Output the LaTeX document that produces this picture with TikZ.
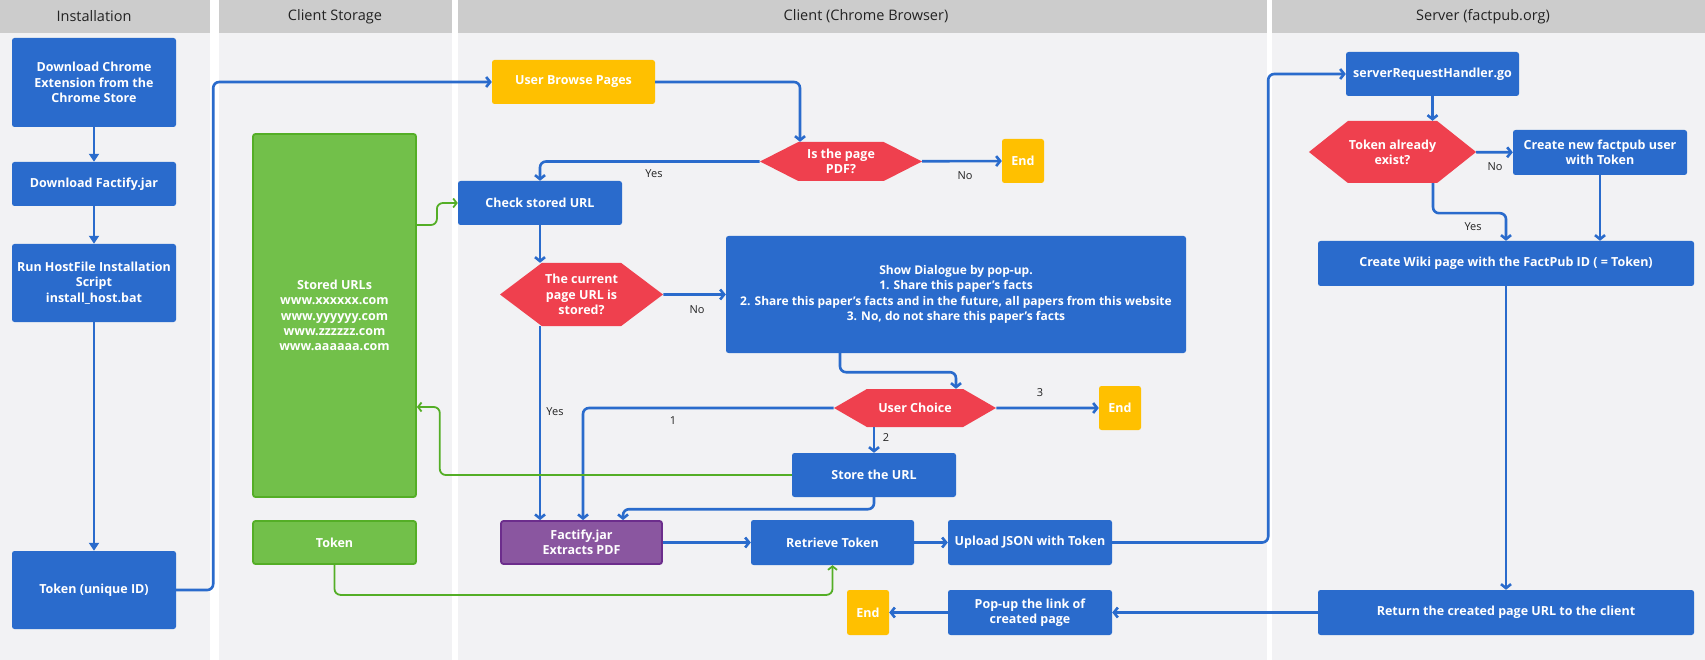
\documentclass[tikz,border=0pt]{standalone}
\usepackage{fontspec}
\setmainfont{Open Sans}
\usepackage{tikz}
\usetikzlibrary{shapes.symbols,arrows.meta}
\definecolor{lane}{HTML}{F2F2F4}
\definecolor{head}{HTML}{CCCCCC}
\definecolor{ink}{HTML}{222222}
\definecolor{blu}{HTML}{2A6BCC}
\definecolor{rd}{HTML}{EF404E}
\definecolor{ylw}{HTML}{FFC000}
\definecolor{grn}{HTML}{72C04A}
\definecolor{grnline}{HTML}{54AE26}
\definecolor{prp}{HTML}{8A56A0}
\definecolor{prpline}{HTML}{6C2D8C}

\begin{document}
\begin{tikzpicture}[x=1pt,y=-1pt,
 box/.style={rectangle,rounded corners=2.5pt,fill=blu,text=white,inner sep=2pt,
 align=center,font=\fontsize{12.5}{15.3}\selectfont\bfseries},
 sz/.style 2 args={minimum width=#1,minimum height=#2},
 stop/.style={box,fill=ylw},
 store/.style={box,fill=grn,draw=grnline,line width=1.8pt},
 jarbox/.style={box,fill=prp,draw=prpline,line width=1.8pt},
 ask/.style={signal,signal to=east and west,fill=rd,text=white,inner sep=1pt,
 align=center,font=\fontsize{12.5}{15.3}\selectfont\bfseries},
 lbl/.style={text=ink,font=\fontsize{11}{13}\selectfont},
 inst/.style={draw=blu,line width=2.6pt,-{Triangle[length=8pt,width=10pt]}},
 flow/.style={draw=blu,line width=2.6pt,rounded corners=6pt,
 -{Straight Barb[length=4pt,width=10pt]}},
 gflow/.style={draw=grnline,line width=1.8pt,rounded corners=6pt,
 -{Straight Barb[length=3.5pt,width=9pt]}}]
\fill[white] (0,0) rectangle (1705,660);
\foreach \a/\b/\c/\t in {0/210/94/Installation,219/452/335/Client Storage,
458/1267/866/Client (Chrome Browser),1272/1705/1483/Server (factpub.org)}{
 \fill[lane] (\a,0) rectangle (\b,660);
 \fill[head] (\a,0) rectangle (\b,33);
 \node[text=ink,font=\fontsize{14.5}{16}\selectfont] at (\c,16.5) {\t};}
\node[box,sz={164}{89}] (dl) at (94,82.5) {Download Chrome\\Extension from the\\Chrome Store};
\node[box,sz={164}{44}] (jar) at (94,184) {Download Factify.jar};
\node[box,sz={164}{78}] (host) at (94,283) {Run HostFile Installation\\Script\\install\_host.bat};
\node[box,sz={164}{78}] (uid) at (94,590) {Token (unique ID)};
\node[store,sz={163}{363}] (urls) at (334.5,315.5) {Stored URLs\\www.xxxxxx.com\\www.yyyyyy.com\\www.zzzzzz.com\\www.aaaaaa.com};
\node[store,sz={163}{43}] (tok) at (334.5,542.5) {Token};
\node[stop,sz={163}{44}] (browse) at (573.5,82) {User Browse Pages};
\node[ask,sz={162}{39},signal pointer angle=54] (pdf) at (841,161.5) {Is the page\\PDF?};
\node[stop,sz={42}{44}] (end1) at (1023,161) {End};
\node[box,sz={164}{44}] (check) at (540,203) {Check stored URL};
\node[ask,sz={163}{63},signal pointer angle=74] (stored) at (581.5,294.5) {The current\\page URL is\\stored?};
\node[box,sz={460}{117},font=\fontsize{12}{15.3}\selectfont\bfseries] (dlg) at (956,294.5) {Show Dialogue by pop-up.\\1. Share this paper’s facts\\2. Share this paper’s facts and in the future, all papers from this website\\3. No, do not share this paper’s facts};
\node[ask,sz={162}{38},signal pointer angle=60] (choice) at (915,408) {User Choice};
\node[stop,sz={42}{44}] (end2) at (1120,408) {End};
\node[box,sz={164}{44}] (storeurl) at (874,475) {Store the URL};
\node[jarbox,sz={161}{43}] (fjar) at (581.5,542.5) {Factify.jar\\Extracts PDF};
\node[box,sz={163}{45}] (ret) at (832.5,542.5) {Retrieve Token};
\node[box,sz={164}{45}] (up) at (1030,542.5) {Upload JSON with Token};
\node[box,sz={164}{45}] (pop) at (1030,612.5) {Pop-up the link of\\created page};
\node[stop,sz={42}{45}] (end3) at (868,612.5) {End};
\node[box,sz={173}{44}] (srh) at (1432.5,74) {serverRequestHandler.go};
\node[ask,sz={163}{62},signal pointer angle=77] (exist) at (1392.5,152) {Token already\\exist?};
\node[box,sz={174}{45}] (new) at (1600,152.5) {Create new factpub user\\with Token};
\node[box,sz={376}{45}] (wiki) at (1506,263.5) {Create Wiki page with the FactPub ID ( = Token)};
\node[box,sz={376}{45}] (back) at (1506,612.5) {Return the created page URL to the client};
\foreach \u/\v in {dl/jar,jar/host,host/uid}{\draw[inst] (\u)--(\v);}
\foreach \u/\v in {pdf/end1,stored/dlg,choice/end2,fjar/ret,ret/up,
exist/new,wiki/back,back/pop,pop/end3}{\draw[flow] (\u)--(\v);}
\draw[flow] (uid.east) -- ++(37,0) |- (browse.west);
\draw[flow] (browse.east) -| ([xshift=-41pt]pdf.north);
\draw[flow] (pdf.west) -| (check.north);
\draw[flow] (check.south) -- (check.south |- stored.north);
\draw[flow] ([xshift=-41.5pt]stored.south) -- ([xshift=-41.5pt]fjar.north);
\draw[flow] ([xshift=-116pt]dlg.south) -- ++(0,19) -| ([xshift=41pt]choice.north);
\draw[flow] (choice.west) -| ([xshift=1.5pt]fjar.north);
\draw[flow] ([xshift=-41pt]choice.south) -- (storeurl.north);
\draw[flow] (storeurl.south) -- ++(0,12) -| ([xshift=41.5pt]fjar.north);
\draw[flow] (up.east) -- ++(156,0) |- (srh.west);
\draw[flow] (srh.south) -- (srh.south |- exist.north);
\draw[flow] ([xshift=40.5pt]exist.south) -- ++(0,30) -| (wiki.north);
\draw[flow] (new.south) -- (new.south |- wiki.north);
\draw[gflow] ([yshift=90.5pt]urls.east) -- ++(20,0) |- (check.west);
\draw[gflow] (storeurl.west) -- ++(-352,0) |- ([yshift=-91.5pt]urls.east);
\draw[gflow] (tok.south) -- ++(0,30) -| (ret.south);
\node[lbl] (yes1) at (654,174) {Yes};
\node[lbl] (no1) at (965,176) {No};
\node[lbl] (no2) at (697,310) {No};
\node[lbl] (yes2) at (555,412) {Yes};
\node[lbl] (one) at (673,421) {1};
\node[lbl] (two) at (886,438) {2};
\node[lbl] (three) at (1040,393) {3};
\node[lbl] (no3) at (1495,167) {No};
\node[lbl] (yes3) at (1473,227) {Yes};
\end{tikzpicture}
\end{document}
